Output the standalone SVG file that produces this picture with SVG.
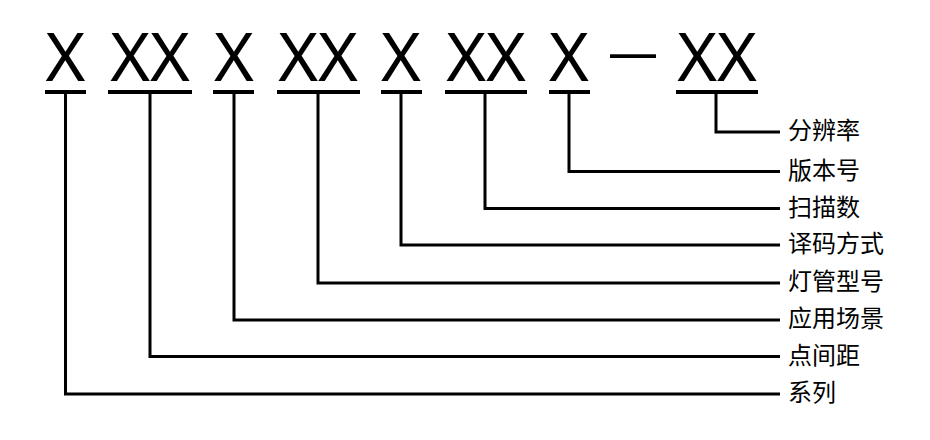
<svg xmlns="http://www.w3.org/2000/svg" width="930" height="440" viewBox="0 0 930 440">
<style>
.code{font-family:"Noto Sans","DejaVu Sans",sans-serif;font-size:68px;fill:#000;text-anchor:middle}
.dash{font-family:"Noto Sans","DejaVu Sans",sans-serif;font-size:50px;fill:#000;text-anchor:middle}
.lbl{font-family:"Noto Sans CJK SC","Noto Sans",sans-serif;font-size:24px;fill:#000}
.ul{stroke:#000;stroke-width:4;fill:none}
.con{stroke:#000;stroke-width:3;fill:none}
</style>
<rect width="930" height="440" fill="#fff"/>
<g id="code">
<g id="seg1"><text class="code" x="65.5" y="81">X</text><line class="ul" x1="45" y1="92" x2="86" y2="92"/></g>
<g id="seg2"><text class="code" x="150" y="81">XX</text><line class="ul" x1="108" y1="92" x2="192" y2="92"/></g>
<g id="seg3"><text class="code" x="234" y="81">X</text><line class="ul" x1="213" y1="92" x2="254" y2="92"/></g>
<g id="seg4"><text class="code" x="318" y="81">XX</text><line class="ul" x1="277" y1="92" x2="360" y2="92"/></g>
<g id="seg5"><text class="code" x="401" y="81">X</text><line class="ul" x1="381" y1="92" x2="422" y2="92"/></g>
<g id="seg6"><text class="code" x="486" y="81">XX</text><line class="ul" x1="445" y1="92" x2="527" y2="92"/></g>
<g id="seg7"><text class="code" x="569" y="81">X</text><line class="ul" x1="549" y1="92" x2="590" y2="92"/></g>
<g id="sep"><text class="dash" x="633" y="69">—</text></g>
<g id="seg8"><text class="code" x="717" y="81">XX</text><line class="ul" x1="676" y1="92" x2="758" y2="92"/></g>
</g>
<g id="connectors">
<polyline class="con" points="716,94 716,132 780,132"/>
<polyline class="con" points="569,94 569,171.5 780,171.5"/>
<polyline class="con" points="485,94 485,208.5 780,208.5"/>
<polyline class="con" points="401,94 401,245 780,245"/>
<polyline class="con" points="318,94 318,283 780,283"/>
<polyline class="con" points="234,94 234,320 780,320"/>
<polyline class="con" points="150,94 150,356.5 780,356.5"/>
<polyline class="con" points="65.5,94 65.5,394 780,394"/>
</g>
<g id="labels">
<g id="l-res"><text class="lbl" x="788" y="139">分辨率</text></g>
<g id="l-ver"><text class="lbl" x="788" y="178.5">版本号</text></g>
<g id="l-scan"><text class="lbl" x="788" y="215.5">扫描数</text></g>
<g id="l-dec"><text class="lbl" x="788" y="252">译码方式</text></g>
<g id="l-lamp"><text class="lbl" x="788" y="290">灯管型号</text></g>
<g id="l-app"><text class="lbl" x="788" y="327">应用场景</text></g>
<g id="l-pitch"><text class="lbl" x="788" y="363.5">点间距</text></g>
<g id="l-series"><text class="lbl" x="788" y="401">系列</text></g>
</g>
</svg>
